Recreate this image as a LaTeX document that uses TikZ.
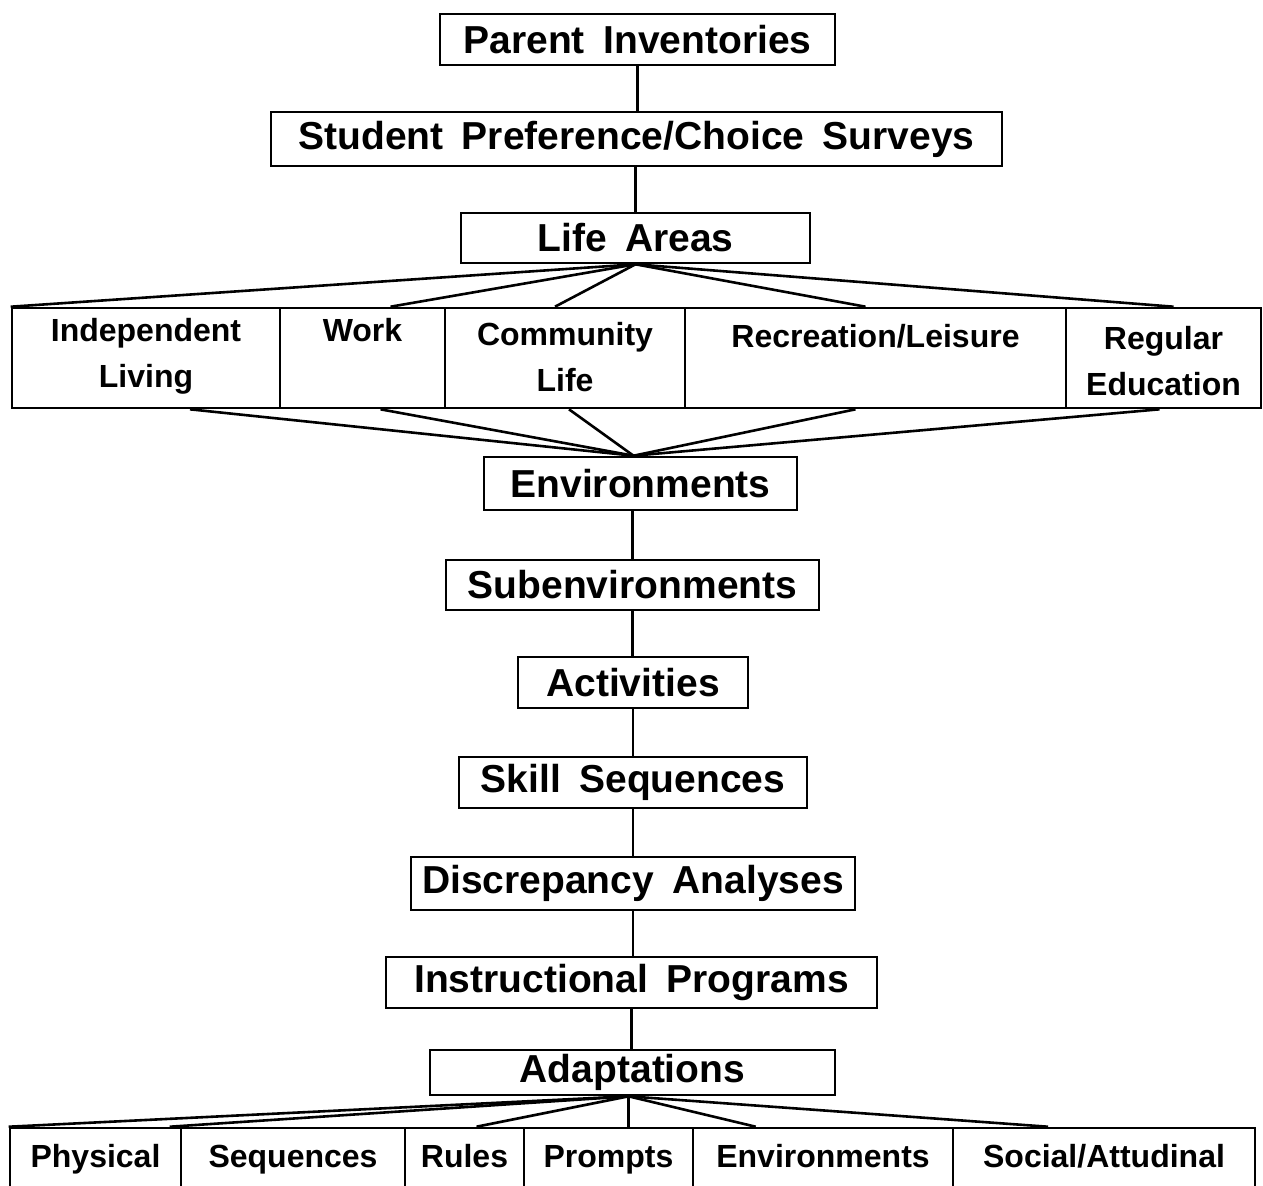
\documentclass[tikz,border=0pt]{standalone}
\usepackage{fontspec}
\setmainfont{Liberation Sans}[WordSpace={1.7,1,1}]
\begin{document}
\begin{tikzpicture}[x=0.5pt,y=-0.5pt,
  line width=1.3pt,
  mainbox/.style={draw,line width=1.3pt,inner sep=0pt,font=\fontsize{19.5}{23}\selectfont\bfseries},
  cellbox/.style={draw,line width=1.3pt,inner sep=0pt,font=\fontsize{16}{23}\selectfont\bfseries},
  botbox/.style={cellbox,minimum height=32pt,text height=12pt,text depth=5pt},
  link/.style={line width=1.3pt}]
\useasboundingbox (0,0) rectangle (1263,1185);
\clip (0,0) rectangle (1263,1185);
% main chain
\node[mainbox,minimum width=197.5pt,minimum height=25.5pt] (par) at (637.5,39.5) {Parent Inventories};
\node[mainbox,minimum width=365.5pt,minimum height=27pt] (stu) at (636.5,139) {Student Preference/Choice Surveys};
\node[mainbox,minimum width=174.5pt,minimum height=25pt] (life) at (635.5,238) {Life Areas};
\node[mainbox,minimum width=156.5pt,minimum height=26.5pt] (env) at (640.5,483.5) {Environments};
\node[mainbox,minimum width=186.5pt,minimum height=25pt] (sub) at (632.5,585) {Subenvironments};
\node[mainbox,minimum width=115pt,minimum height=25.5pt] (act) at (633,682.5) {Activities};
\node[mainbox,minimum width=174pt,minimum height=25.5pt] (skill) at (633,782.5) {Skill Sequences};
\node[mainbox,minimum width=222pt,minimum height=26.5pt] (disc) at (633,883.5) {Discrepancy Analyses};
\node[mainbox,minimum width=245.5pt,minimum height=25.5pt] (instr) at (631.5,982.5) {Instructional Programs};
\node[mainbox,minimum width=202.5pt,minimum height=22.5pt] (adapt) at (632.5,1072.5) {Adaptations};
% life areas row
\node[cellbox,minimum width=134pt,minimum height=50pt] (ind) at (146,358)
  {\parbox[c][44pt][t]{130pt}{\centering\vspace*{2pt}Independent\\Living}};
\node[cellbox,minimum width=82.5pt,minimum height=50pt] (work) at (362.5,358)
  {\parbox[c][44pt][t]{80pt}{\centering\vspace*{2pt}Work}};
\node[cellbox,minimum width=120pt,minimum height=50pt] (comm) at (565,358)
  {\parbox[c][44pt][t]{116pt}{\centering\vspace*{4pt}Community\\Life}};
\node[cellbox,minimum width=190.5pt,minimum height=50pt] (rec) at (875.5,358)
  {\parbox[c][44pt][t]{186pt}{\centering\vspace*{5pt}Recreation/Leisure}};
\node[cellbox,minimum width=97.5pt,minimum height=50pt] (reg) at (1163.5,358)
  {\parbox[c][44pt][t]{94pt}{\centering\vspace*{6pt}Regular\\Education}};
% adaptations row
\node[botbox,minimum width=85.5pt] (phys) at (95.5,1160) {Physical};
\node[botbox,minimum width=112pt] (seq) at (293,1160) {Sequences};
\node[botbox,minimum width=59.5pt] (rules) at (464.5,1160) {Rules};
\node[botbox,minimum width=84.5pt] (prom) at (608.5,1160) {Prompts};
\node[botbox,minimum width=130pt] (envb) at (823,1160) {Environments};
\node[botbox,minimum width=151pt] (soc) at (1104,1160) {Social/Attudinal};
% vertical connectors
\draw[link] (par.south) -- (par.south |- stu.north);
\draw[link] (life.north |- stu.south) -- (life.north);
\draw[link] (env.south -| sub.north) -- (sub.north);
\draw[link] (sub.south) -- (sub.south |- act.north);
\draw[link] (act.south) -- (act.south |- skill.north);
\draw[link] (skill.south) -- (skill.south |- disc.north);
\draw[link] (disc.south) -- (disc.south |- instr.north);
\draw[link] (instr.south) -- (instr.south |- adapt.north);
% life areas fan-out
\draw[link] (life.south) -- (ind.north west);
\draw[link] (life.south) -- ([xshift=14pt]work.north);
\draw[link] (life.south) -- ([xshift=-5pt]comm.north);
\draw[link] (life.south) -- ([xshift=-5pt]rec.north);
\draw[link] (life.south) -- ([xshift=5pt]reg.north);
% fan-in to environments
\coordinate (envtop) at ([xshift=-3.5pt]env.north);
\draw[link] ([xshift=22pt]ind.south) -- (envtop);
\draw[link] ([xshift=9pt]work.south) -- (envtop);
\draw[link] ([xshift=2pt]comm.south) -- (envtop);
\draw[link] ([xshift=-10pt]rec.south) -- (envtop);
\draw[link] ([xshift=-2pt]reg.south) -- (envtop);
% adaptations fan-out
\coordinate (adbot) at ([xshift=-2pt]adapt.south);
\draw[link] (adbot) -- (phys.north west);
\draw[link] (adbot) -- ([xshift=-5pt]seq.north west);
\draw[link] (adbot) -- ([xshift=6pt]rules.north);
\draw[link] (adbot) -- (adbot |- prom.north);
\draw[link] (adbot) -- ([xshift=32pt]envb.north west);
\draw[link] (adbot) -- ([xshift=-28pt]soc.north);
\end{tikzpicture}
\end{document}
